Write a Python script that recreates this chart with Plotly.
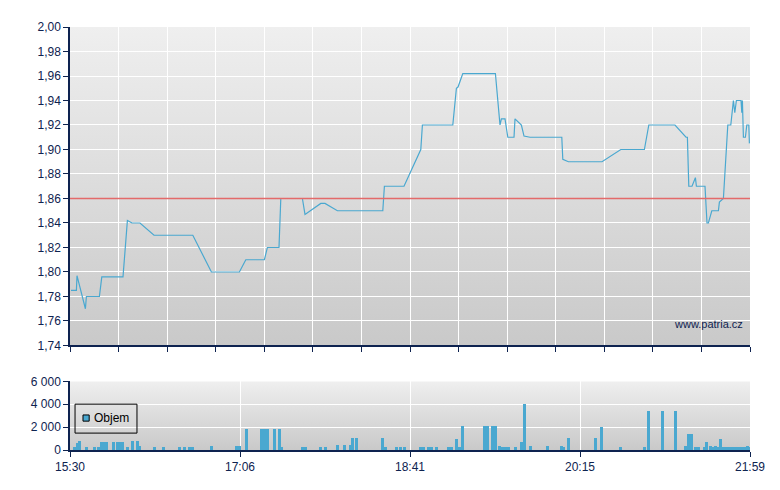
import plotly.graph_objects as go
import base64

# ---- data ----
# x positions are trading slots on an ordinal axis (0..340), ticks mark times
tick_slots = [0, 85, 170, 255, 340]
tick_labels = ["15:30", "17:06", "18:41", "20:15", "21:59"]

price_x = [0.5, 3.2, 3.5, 7.7, 8.2, 14.7, 15.9, 26.5, 28.7, 31, 35, 42, 61.4, 70.7, 84.7,
           87.9, 97.2, 98.7, 104.5, 105.4, 116.2, 117.5, 125.4, 127.5, 133.7, 156.4, 157.2,
           167, 175.4, 176.2, 191.4, 193.2, 194, 196.4, 212.7, 215, 215.7, 217.5, 218.9,
           222, 222.5, 225.7, 227, 230, 245.9, 246.4, 249.2, 266, 275.4, 287.2, 289.4,
           302.5, 308, 308.7, 309.4, 311, 312.7, 313.2, 317.5, 318.5, 319.2, 320.9, 324.2,
           324.7, 326.7, 328.9, 330.4, 331, 331.7, 332.4, 333.2, 335.5, 335.9, 336.2,
           336.7, 337.7, 338.4, 339.4, 339.7]
price_y = [1.785, 1.785, 1.797, 1.770, 1.780, 1.780, 1.796, 1.796, 1.842, 1.840, 1.840, 1.830,
           1.830, 1.800, 1.800, 1.810, 1.810, 1.820, 1.820, 1.860, 1.860, 1.847, 1.856, 1.856,
           1.850, 1.850, 1.870, 1.870, 1.900, 1.920, 1.920, 1.950, 1.951, 1.962, 1.962,
           1.920, 1.925, 1.925, 1.910, 1.910, 1.925, 1.920, 1.911, 1.910, 1.910, 1.892,
           1.890, 1.890, 1.900, 1.900, 1.920, 1.920, 1.910, 1.910, 1.870, 1.870, 1.877,
           1.870, 1.870, 1.840, 1.840, 1.850, 1.850, 1.857, 1.860, 1.920, 1.920, 1.930,
           1.940, 1.930, 1.940, 1.940, 1.930, 1.940, 1.910, 1.910, 1.920, 1.920, 1.905]

reference_price = 1.86

vol_x = [2, 3.5, 4.5, 8, 12, 14, 15.75, 17, 18.25, 21.75, 23.75, 25, 26.25, 28.75, 31.25,
         33.5, 34.5, 42.25, 46.75, 54.75, 57.25, 59.75, 61.25, 70.75, 83.25, 84.75, 88.25,
         95.75, 97.25, 98.75, 102.25, 104.75, 105.75,
         116.25, 117.75, 125.25, 127.75, 133.75, 137.25, 140.25, 141.25, 143.25, 156.25,
         157.75, 163.25, 165.25, 167.25, 175, 176.5, 179.25, 180.5, 183.25, 189.25, 190.75,
         193.25, 194.5, 196.25, 207.25, 208.75, 211.25, 212.75, 214.75, 216.25, 217.75,
         219, 222.5, 225.75, 227.25,
         230.25, 238.75, 245.75, 246.5, 249.25, 262.75, 265.75, 275.25, 287.25, 289.25,
         296.25, 302.5, 307.75, 309.25, 310.75, 312.75, 314.25, 317.25, 318.25, 320,
         321.5, 322.75, 323.75, 325, 326.5, 328, 329.5, 331, 332.5, 334, 335.5, 337,
         338, 338.75, 339.75]
vol_y = [200, 600, 800, 200, 200, 200, 700, 700, 700, 700, 700, 700, 700, 200, 800,
         800, 350, 200, 200, 200, 200, 200, 200, 350, 350, 350, 1850,
         1850, 1850, 1850, 1850, 1850, 200,
         200, 200, 200, 200, 440, 440, 440, 1060, 1060, 1060,
         200, 200, 200, 200, 200, 260, 260, 200, 200, 200, 200,
         970, 200, 2030, 2030, 2030, 2030, 2030, 350, 200, 200,
         200, 200, 700, 3950,
         350, 350, 350, 260, 1060, 1060, 1940, 200, 200, 3350,
         3350, 3350, 350, 1400, 1400, 200, 200, 200, 700, 350,
         200, 350, 200, 970, 200, 200, 200, 200, 200, 200, 200, 200,
         200, 350, 200]

legend_label = "Objem"

# ---- style ----
NAVY = "#0E2350"
BLUE = "#4AA8D0"
FONT = "Liberation Sans, Arial, sans-serif"

fig = go.Figure()
fig.add_trace(go.Scatter(x=price_x, y=price_y, mode="lines",
                         line=dict(color=BLUE, width=1.2), showlegend=False,
                         xaxis="x", yaxis="y"))
fig.add_trace(go.Bar(x=vol_x, y=vol_y, name=legend_label,
                     marker=dict(color=BLUE, line=dict(width=0)),
                     width=1.5, xaxis="x2", yaxis="y2", showlegend=False))

svg = ("<svg xmlns='http://www.w3.org/2000/svg' width='10' height='100' preserveAspectRatio='none'>"
       "<defs><linearGradient id='g' x1='0' y1='0' x2='0' y2='1'>"
       "<stop offset='0' stop-color='#EFEFEF'/><stop offset='1' stop-color='#C9C9C9'/>"
       "</linearGradient></defs><rect width='10' height='100' fill='url(#g)'/></svg>")
src = "data:image/svg+xml;base64," + base64.b64encode(svg.encode()).decode()

main_dom = [0.2471, 1.0]
vol_dom = [0.0, 0.1624]

# compact legend box (drawn in the volume panel's domain coordinates)
legend_shapes = [
    dict(type="rect", xref="x2 domain", yref="y2 domain", x0=0.0074, x1=0.0985,
         y0=0.246, y1=0.667, line=dict(color="black", width=1), fillcolor="rgba(0,0,0,0)"),
    dict(type="rect", xref="x2 domain", yref="y2 domain", x0=0.0191, x1=0.0282,
         y0=0.42, y1=0.51, line=dict(color="black", width=1), fillcolor=BLUE),
]

fig.update_layout(
    width=780, height=490,
    margin=dict(l=62, r=38, t=17, b=48),
    paper_bgcolor="white", plot_bgcolor="rgba(0,0,0,0)",
    separators=", ",
    font=dict(family=FONT, size=12, color=NAVY),
    bargap=0,
    showlegend=False,
    images=[
        dict(source=src, xref="paper", yref="paper", x=0, y=main_dom[1], sizex=1,
             sizey=main_dom[1] - main_dom[0], xanchor="left", yanchor="top",
             sizing="stretch", layer="below"),
        dict(source=src, xref="paper", yref="paper", x=0, y=vol_dom[1], sizex=1,
             sizey=vol_dom[1] - vol_dom[0], xanchor="left", yanchor="top",
             sizing="stretch", layer="below"),
    ],
    xaxis=dict(domain=[0, 1], range=[0, 340], anchor="y", tick0=0, dtick=340 / 14,
               showticklabels=False, ticks="outside", ticklen=5, tickcolor=NAVY,
               showline=True, linecolor=NAVY, linewidth=1.5, showgrid=True,
               gridcolor="white", gridwidth=1.2, zeroline=False, fixedrange=True),
    yaxis=dict(domain=main_dom, range=[1.74, 2.0], anchor="x", dtick=0.02,
               tickformat=".2f", ticks="outside", ticklen=5, tickcolor=NAVY,
               showline=True, linecolor=NAVY, linewidth=1.5, showgrid=True,
               gridcolor="white", gridwidth=1.2, zeroline=False),
    xaxis2=dict(domain=[0, 1], range=[0, 340], anchor="y2", tickvals=tick_slots,
                ticktext=tick_labels, ticks="outside", ticklen=5, tickcolor=NAVY,
                showline=True, linecolor=NAVY, linewidth=1.5, showgrid=True,
                gridcolor="white", gridwidth=1.2, zeroline=False),
    yaxis2=dict(domain=vol_dom, range=[0, 6000], anchor="x2", dtick=2000,
                tickformat=",d", ticks="outside", ticklen=5, tickcolor=NAVY,
                showline=True, linecolor=NAVY, linewidth=1.5, showgrid=True,
                gridcolor="white", gridwidth=1.2, zeroline=False),
    shapes=[dict(type="line", xref="x domain", yref="y", x0=0, x1=1,
                 y0=reference_price, y1=reference_price,
                 line=dict(color="#E36A6A", width=1.3))] + legend_shapes,
    annotations=[
        dict(text="www.patria.cz", xref="paper", yref="paper", x=0.992,
             y=0.05 + main_dom[0], xanchor="right", yanchor="middle",
             showarrow=False, font=dict(family=FONT, size=11, color=NAVY)),
        dict(text=legend_label, xref="x2 domain", yref="y2 domain", x=0.032, y=0.465,
             xanchor="left", yanchor="middle", showarrow=False,
             font=dict(family=FONT, size=12, color="black")),
    ],
)

fig.write_html("out.html")
